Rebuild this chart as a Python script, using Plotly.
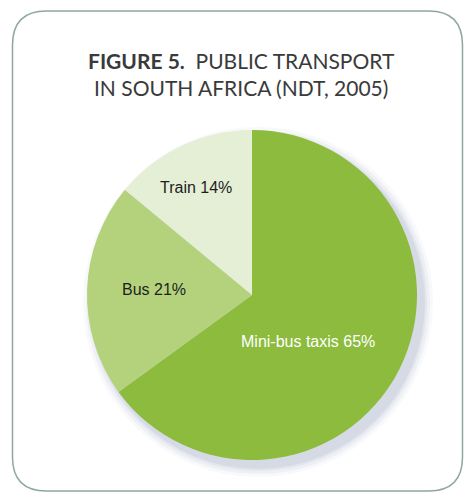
import math
import plotly.graph_objects as go

# Modal share of public transport trips
modes = ["Mini-bus taxis", "Bus", "Train"]
shares = [65, 21, 14]
colors = ["#8cbb3e", "#b4d27c", "#e5efd5"]
label_colors = ["#ffffff", "#1e1e1e", "#1e1e1e"]
label_radius = [0.443, 0.595, 0.732]   # radial position of each label (fraction of radius)
label_turn = [13.0, 1.7, -2.4]         # angular nudge of each label from its bisector (deg)

W, H = 465, 492
cx, cy, R = 252, 295, 165          # pie centre and radius in pixels


def px(x):
    return x / W


def py(y):
    return 1 - y / H


fig = go.Figure()

fig.add_trace(go.Pie(
    labels=modes,
    values=shares,
    sort=False,
    direction="clockwise",
    rotation=0,
    marker=dict(colors=colors, line=dict(width=0)),
    textinfo="none",
    hoverinfo="label+percent",
    showlegend=False,
    domain=dict(x=[px(cx - R), px(cx + R)], y=[py(cy + R), py(cy - R)]),
))

# Slice labels placed near each slice's bisector
annotations = []
total = sum(shares)
start = 0.0
for mode, val, col, rf, turn in zip(modes, shares, label_colors, label_radius, label_turn):
    mid = (start + val / 2) / total * 2 * math.pi + math.radians(turn)
    start += val
    lx = cx + rf * R * math.sin(mid)
    ly = cy - rf * R * math.cos(mid)
    annotations.append(dict(
        x=px(lx), y=py(ly), xref="paper", yref="paper",
        xanchor="center", yanchor="middle",
        text=f"{mode} {val}%", showarrow=False,
        font=dict(family="Liberation Sans, Arial, sans-serif", size=16, color=col),
    ))

# Title
annotations.append(dict(
    x=px(241), y=py(74), xref="paper", yref="paper",
    xanchor="center", yanchor="middle",
    text="<b>FIGURE 5.</b>  PUBLIC TRANSPORT<br>IN SOUTH AFRICA (NDT, 2005)",
    showarrow=False, align="center",
    font=dict(family="Lato, sans-serif", size=21, color="#3a3a3a"),
))

shapes = []
# Soft drop shadow behind the pie
for grow, op in [(10, 0.05), (7, 0.07), (4, 0.09), (2, 0.12)]:
    ox, oy = 6, 7
    shapes.append(dict(
        type="circle", xref="paper", yref="paper", layer="below",
        x0=px(cx + ox - R - grow), x1=px(cx + ox + R + grow),
        y0=py(cy + oy + R + grow), y1=py(cy + oy - R - grow),
        fillcolor=f"rgba(120,130,170,{op})", line=dict(width=0),
    ))

# Rounded frame around the figure
x0, x1, y0, y1, r = 12.5, 462.5, 11, 491, 34
path = (
    f"M {px(x0 + r)},{py(y0)} L {px(x1 - r)},{py(y0)} "
    f"Q {px(x1)},{py(y0)} {px(x1)},{py(y0 + r)} "
    f"L {px(x1)},{py(y1 - r)} Q {px(x1)},{py(y1)} {px(x1 - r)},{py(y1)} "
    f"L {px(x0 + r)},{py(y1)} Q {px(x0)},{py(y1)} {px(x0)},{py(y1 - r)} "
    f"L {px(x0)},{py(y0 + r)} Q {px(x0)},{py(y0)} {px(x0 + r)},{py(y0)} Z"
)
shapes.append(dict(
    type="path", path=path, xref="paper", yref="paper", layer="below",
    line=dict(color="#8fa89c", width=1.5), fillcolor="rgba(0,0,0,0)",
))

fig.update_layout(
    width=W, height=H,
    margin=dict(l=0, r=0, t=0, b=0),
    paper_bgcolor="#ffffff",
    plot_bgcolor="#ffffff",
    annotations=annotations,
    shapes=shapes,
)

fig.write_html("out.html")
